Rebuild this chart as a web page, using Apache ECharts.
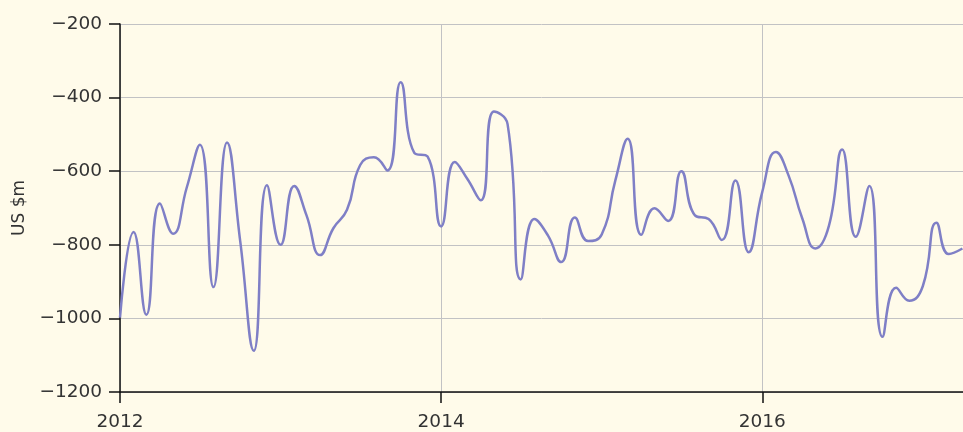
<!DOCTYPE html>
<html>
<head>
<meta charset="utf-8">
<script src="https://cdn.jsdelivr.net/npm/echarts@6/dist/echarts.min.js"></script>
<style>
  html, body { margin: 0; padding: 0; background: #fffbea; }
  #chart { width: 963px; height: 432px; }
</style>
</head>
<body>
<div id="chart"></div>
<script>
// Monthly balance, US $m
const months = [
  '2012-01','2012-02','2012-03','2012-04','2012-05','2012-06','2012-07','2012-08','2012-09','2012-10','2012-11','2012-12',
  '2013-01','2013-02','2013-03','2013-04','2013-05','2013-06','2013-07','2013-08','2013-09','2013-10','2013-11','2013-12',
  '2014-01','2014-02','2014-03','2014-04','2014-05','2014-06','2014-07','2014-08','2014-09','2014-10','2014-11','2014-12',
  '2015-01','2015-02','2015-03','2015-04','2015-05','2015-06','2015-07','2015-08','2015-09','2015-10','2015-11','2015-12',
  '2016-01','2016-02','2016-03','2016-04','2016-05','2016-06','2016-07','2016-08','2016-09','2016-10','2016-11','2016-12',
  '2017-01','2017-02','2017-03','2017-04'
];
const values = [
  -998, -765, -990, -688, -770, -645, -528, -915, -522, -790, -1088, -638,
  -800, -640, -720, -828, -755, -705, -583, -562, -598, -358, -550, -560,
  -750, -575, -620, -679, -438, -472, -894, -730, -775, -847, -726, -790,
  -772, -625, -512, -773, -701, -735, -600, -720, -730, -787, -625, -820,
  -656, -548, -612, -728, -810, -748, -541, -778, -640, -1050, -917, -952,
  -912, -740, -825, -810
];
const yearTicks = [2012, 2014, 2016];
const yTicks = [-1200, -1000, -800, -600, -400, -200];

// decimal year for the first day of a 'YYYY-MM' month
function monthToYear(s) {
  const [y, m] = s.split('-').map(Number);
  const start = Date.UTC(y, 0, 1), end = Date.UTC(y + 1, 0, 1);
  return y + (Date.UTC(y, m - 1, 1) - start) / (end - start);
}

const seriesData = months.map((m, i) => [monthToYear(m), values[i]]);
const FONT = '"DejaVu Sans", sans-serif';

const chart = echarts.init(document.getElementById('chart'), null, { renderer: 'canvas' });
chart.setOption({
  backgroundColor: '#fffbea',
  animation: false,
  grid: { left: 120, right: 0, top: 24, bottom: 36, containLabel: false },
  xAxis: {
    type: 'value',
    min: 2012,
    max: 2017.25,
    interval: 2,
    axisLine: { show: true, lineStyle: { color: '#111', width: 1.5 } },
    axisTick: { show: true, length: 11, customValues: yearTicks, lineStyle: { color: '#111', width: 1.5 } },
    axisLabel: {
      customValues: yearTicks,
      margin: 21,
      color: '#333',
      fontFamily: FONT,
      fontSize: 18.5,
      formatter: v => String(v)
    },
    splitLine: { show: true, lineStyle: { color: '#c2c2c4', width: 1 } }
  },
  yAxis: {
    type: 'value',
    min: yTicks[0],
    max: yTicks[yTicks.length - 1],
    interval: 200,
    name: 'US $m',
    nameLocation: 'middle',
    nameGap: 90,
    nameTextStyle: { color: '#333', fontFamily: FONT, fontSize: 17 },
    axisLine: { show: true, lineStyle: { color: '#111', width: 1.5 } },
    axisTick: { show: true, length: 11, lineStyle: { color: '#111', width: 1.5 } },
    axisLabel: {
      margin: 18,
      color: '#333',
      fontFamily: FONT,
      fontSize: 18.5,
      formatter: v => String(v).replace('-', '\u2212')
    },
    splitLine: { show: true, lineStyle: { color: '#c2c2c4', width: 1 } }
  },
  series: [{
    type: 'line',
    data: seriesData,
    smooth: 0.5,
    showSymbol: false,
    lineStyle: { color: '#7f7fc6', width: 2.5 },
    clip: true
  }]
});
</script>
</body>
</html>
